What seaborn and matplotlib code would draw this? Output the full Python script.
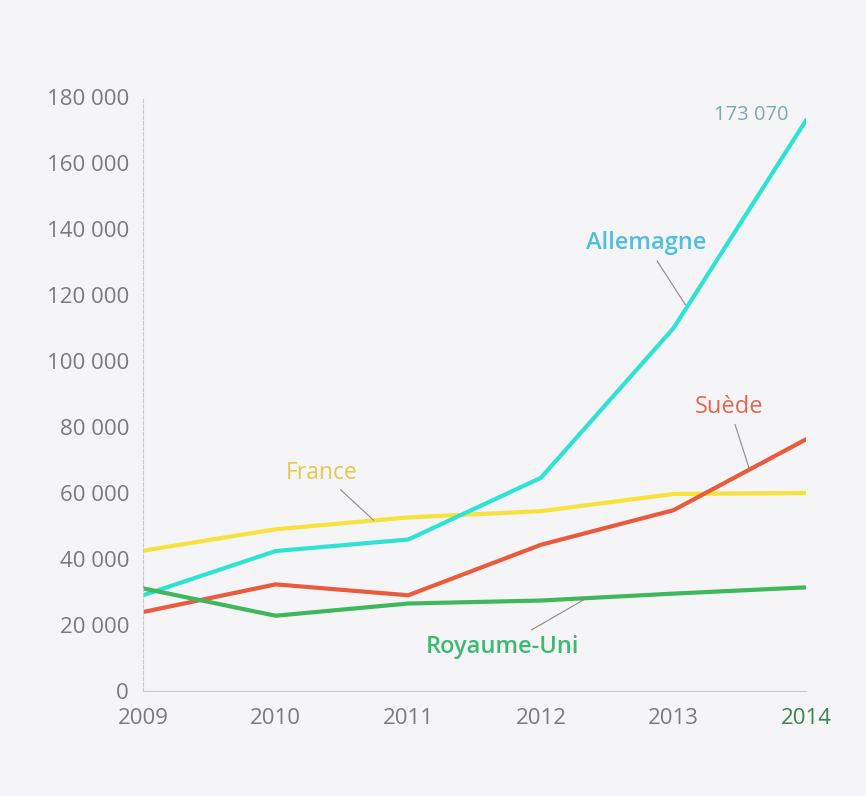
import numpy as np
import pandas as pd
import seaborn as sns
import matplotlib.pyplot as plt

# Values
years = [2009, 2010, 2011, 2012, 2013, 2014]
allemagne = [29000, 42400, 45900, 64600, 110000, 173070]
france = [42500, 49000, 52600, 54500, 59700, 60000]
suede = [23900, 32300, 29000, 44300, 54800, 76300]
royaume_uni = [31100, 22800, 26500, 27400, 29500, 31400]

y_ticks = [0, 20000, 40000, 60000, 80000, 100000, 120000, 140000, 160000, 180000]
y_tick_labels = ['0', '20 000', '40 000', '60 000', '80 000', '100 000',
                 '120 000', '140 000', '160 000', '180 000']

line_colors = {'Allemagne': '#2ee3d3', 'France': '#f7e23c',
               'Suède': '#ea5a3c', 'Royaume-Uni': '#3fb75c'}
label_colors = {'Allemagne': '#4fbfdc', 'France': '#e2ca4e',
                'Suède': '#e26650', 'Royaume-Uni': '#3dba72'}

df = pd.DataFrame({
    'année': years * 4,
    'valeur': allemagne + france + suede + royaume_uni,
    'pays': ['Allemagne'] * 6 + ['France'] * 6 + ['Suède'] * 6 + ['Royaume-Uni'] * 6,
})

sns.set_style('white')
plt.rcParams['font.family'] = ['Open Sans', 'DejaVu Sans']

bg = '#f5f5f7'
fig = plt.figure(figsize=(8.66, 7.96), dpi=100, facecolor=bg)
ax = fig.add_axes([0.165, 0.132, 0.766, 0.746], facecolor=bg)

# draw in this order so the overlaps look like the reference
for name in ['France', 'Allemagne', 'Suède', 'Royaume-Uni']:
    sns.lineplot(data=df[df['pays'] == name], x='année', y='valeur',
                 color=line_colors[name], linewidth=3, ax=ax, legend=False)

ax.set_xlim(2009, 2014)
ax.set_ylim(0, 180000)
ax.set_xticks(years)
ax.set_xticklabels([str(y) for y in years])
ax.set_yticks(y_ticks)
ax.set_yticklabels(y_tick_labels)
ax.set_xlabel('')
ax.set_ylabel('')
ax.tick_params(axis='y', labelsize=16, labelcolor='#7a7a7a', length=0, pad=10)
ax.tick_params(axis='x', labelsize=16, labelcolor='#7a7a7a', length=0, pad=12)
ax.get_xticklabels()[-1].set_color('#3f7f52')

for s in ['top', 'right']:
    ax.spines[s].set_visible(False)
ax.spines['left'].set_color('#c8c8c8')
ax.spines['left'].set_linewidth(0.8)
ax.spines['left'].set_linestyle((0, (3, 2)))
ax.spines['bottom'].set_color('#c8c8c8')
ax.spines['bottom'].set_linewidth(0.8)

leader = dict(arrowstyle='-', color='#8a8a8a', lw=0.8, shrinkA=2, shrinkB=0)

ax.annotate('Allemagne', xy=(2013.09, 117000), xytext=(2012.79, 135700),
            ha='center', va='center', fontsize=17, fontweight='semibold',
            color=label_colors['Allemagne'], arrowprops=leader)
ax.annotate('France', xy=(2010.74, 51700), xytext=(2010.35, 66200),
            ha='center', va='center', fontsize=16.5,
            color=label_colors['France'], arrowprops=leader)
ax.annotate('Suède', xy=(2013.57, 67400), xytext=(2013.42, 86200),
            ha='center', va='center', fontsize=17,
            color=label_colors['Suède'], arrowprops=leader)
ax.annotate('Royaume-Uni', xy=(2012.33, 27800), xytext=(2011.71, 13400),
            ha='center', va='center', fontsize=17, fontweight='semibold',
            color=label_colors['Royaume-Uni'], arrowprops=leader)
ax.text(2013.87, allemagne[-1] + 1500, '173 070', ha='right', va='center',
        fontsize=14.5, color='#7aaab2')

fig.savefig('out.png', dpi=100, facecolor=bg)
